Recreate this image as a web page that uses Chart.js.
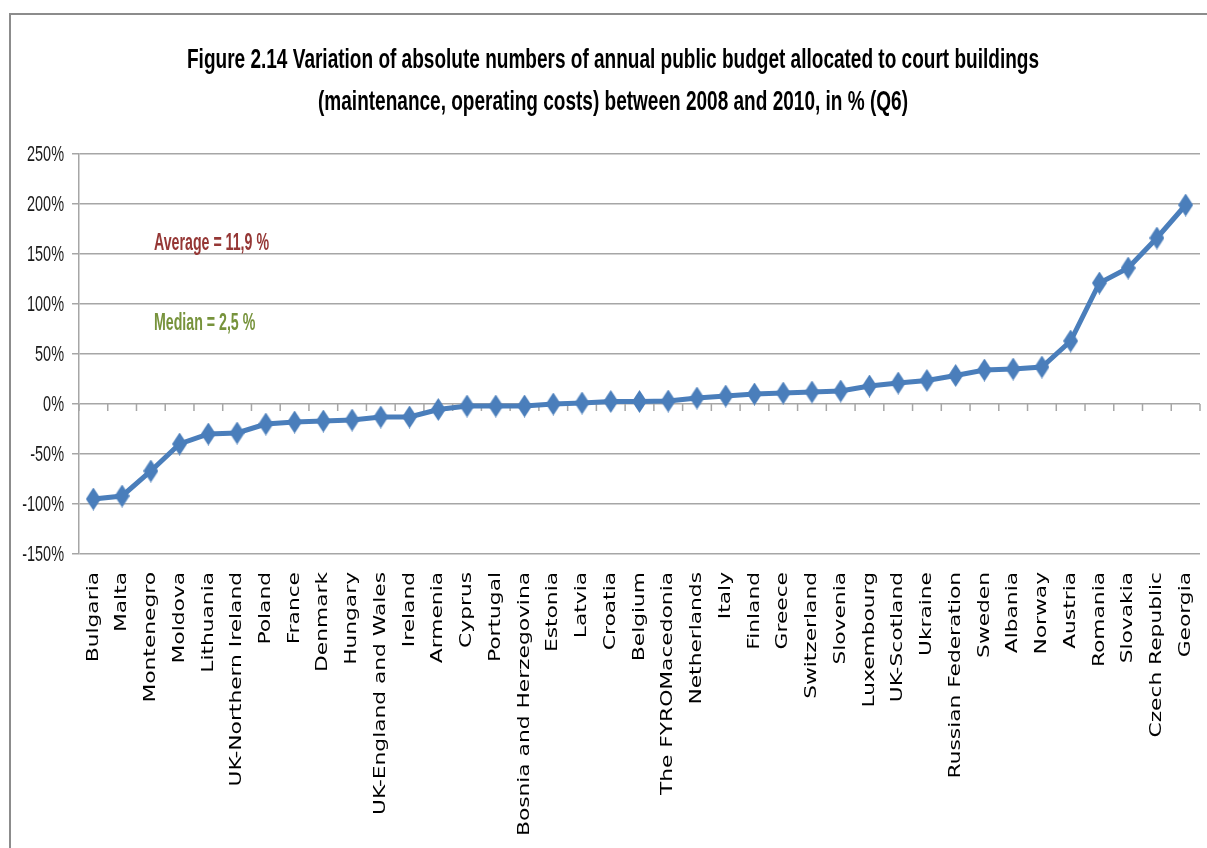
<!DOCTYPE html>
<html>
<head>
<meta charset="utf-8">
<script src="https://cdn.jsdelivr.net/npm/chart.js@4/dist/chart.umd.min.js"></script>
<style>
  html, body { margin: 0; padding: 0; background: #fff; }
  #chart { display: block; }
</style>
</head>
<body>
<canvas id="chart" width="1207" height="848"></canvas>
<script>
// Data
const countries = [
  'Bulgaria', 'Malta', 'Montenegro', 'Moldova', 'Lithuania', 'UK-Northern Ireland',
  'Poland', 'France', 'Denmark', 'Hungary', 'UK-England and Wales', 'Ireland',
  'Armenia', 'Cyprus', 'Portugal', 'Bosnia and Herzegovina', 'Estonia', 'Latvia',
  'Croatia', 'Belgium', 'The FYROMacedonia', 'Netherlands', 'Italy', 'Finland',
  'Greece', 'Switzerland', 'Slovenia', 'Luxembourg', 'UK-Scotland', 'Ukraine',
  'Russian Federation', 'Sweden', 'Albania', 'Norway', 'Austria', 'Romania',
  'Slovakia', 'Czech Republic', 'Georgia'
];
const variation = [
  -95, -92, -67, -40, -30, -29,
  -20, -18, -17, -16, -13, -13,
  -5.5, -2, -2, -2, 0, 1,
  2.5, 2.5, 3, 6, 8, 10,
  11, 12, 13, 18, 21, 23.5,
  28.5, 34, 35, 37, 63, 121,
  136, 166, 199
];
const yTickValues = [-150, -100, -50, 0, 50, 100, 150, 200, 250];
const titleLines = [
  'Figure 2.14 Variation of absolute numbers of annual public budget allocated to court buildings',
  '(maintenance, operating costs) between 2008 and 2010, in % (Q6)'
];
const notes = [
  { text: 'Average = 11,9 %', color: '#953735' },
  { text: 'Median = 2,5 %', color: '#77933c' }
];

const blue = '#4a7ebb';

// tall diamond marker
function makeDiamond(w, h) {
  const c = document.createElement('canvas');
  c.width = w; c.height = h;
  const g = c.getContext('2d');
  g.fillStyle = blue;
  g.beginPath();
  g.moveTo(w / 2, 0);
  g.lineTo(w, h / 2);
  g.lineTo(w / 2, h);
  g.lineTo(0, h / 2);
  g.closePath();
  g.fill();
  return c;
}
const diamond = makeDiamond(15, 23);

// draw text squeezed/stretched horizontally by sx
function drawScaled(ctx, text, x, y, sx, align) {
  ctx.save();
  ctx.translate(x, y);
  ctx.scale(sx, 1);
  ctx.textAlign = align;
  ctx.fillText(text, 0, 0);
  ctx.restore();
}

const decorations = {
  id: 'decorations',
  beforeDraw(chart) {
    const ctx = chart.ctx;
    ctx.save();
    ctx.fillStyle = '#fff';
    ctx.fillRect(0, 0, chart.width, chart.height);
    // outer frame
    ctx.strokeStyle = '#8c8c8c';
    ctx.lineWidth = 2;
    ctx.beginPath();
    ctx.moveTo(10, chart.height);
    ctx.lineTo(10, 14);
    ctx.lineTo(chart.width, 14);
    ctx.stroke();
    ctx.restore();
  },
  beforeDatasetsDraw(chart) {
    // tick marks on the 0% line between categories
    const ctx = chart.ctx;
    const x = chart.scales.x, y = chart.scales.y;
    const y0 = y.getPixelForValue(0);
    const step = x.getPixelForValue(1) - x.getPixelForValue(0);
    ctx.save();
    ctx.strokeStyle = '#a6a6a6';
    ctx.lineWidth = 1.5;
    ctx.beginPath();
    for (let i = 0; i <= countries.length; i++) {
      const px = x.getPixelForValue(0) - step / 2 + i * step;
      ctx.moveTo(px, y0);
      ctx.lineTo(px, y0 + 7);
    }
    ctx.stroke();
    ctx.restore();
  },
  afterDraw(chart) {
    const ctx = chart.ctx;
    const x = chart.scales.x, y = chart.scales.y;
    ctx.save();

    // title
    ctx.fillStyle = '#000';
    ctx.font = 'bold 27px "Liberation Sans", Arial, sans-serif';
    ctx.textBaseline = 'alphabetic';
    const tsx = 852 / ctx.measureText(titleLines[0]).width;
    drawScaled(ctx, titleLines[0], 613, 68, tsx, 'center');
    drawScaled(ctx, titleLines[1], 613, 110, tsx, 'center');

    // annotations
    ctx.font = 'bold 23px "Liberation Sans", Arial, sans-serif';
    const nsx = 115 / ctx.measureText(notes[0].text).width;
    ctx.fillStyle = notes[0].color;
    drawScaled(ctx, notes[0].text, 154, 250, nsx, 'left');
    ctx.fillStyle = notes[1].color;
    drawScaled(ctx, notes[1].text, 154, 330, nsx, 'left');

    // y tick labels
    ctx.fillStyle = '#1a1a1a';
    ctx.font = '22px "Liberation Sans", Arial, sans-serif';
    ctx.textBaseline = 'middle';
    const ysx = 37 / ctx.measureText('250%').width;
    yTickValues.forEach(v => {
      drawScaled(ctx, v + '%', 64, y.getPixelForValue(v) + 1, ysx, 'right');
    });

    // x labels, rotated, read bottom to top
    ctx.fillStyle = '#000';
    ctx.font = '16px "DejaVu Sans", Verdana, sans-serif';
    ctx.textBaseline = 'middle';
    const xsx = 264 / ctx.measureText('Bosnia and Herzegovina').width;
    countries.forEach((name, i) => {
      ctx.save();
      ctx.translate(x.getPixelForValue(i), 572);
      ctx.rotate(-Math.PI / 2);
      ctx.scale(xsx, 1);
      ctx.textAlign = 'right';
      ctx.fillText(name, 0, 0);
      ctx.restore();
    });

    ctx.restore();
  }
};

new Chart(document.getElementById('chart'), {
  type: 'line',
  data: {
    labels: countries,
    datasets: [{
      data: variation,
      borderColor: blue,
      borderWidth: 5,
      backgroundColor: blue,
      pointStyle: diamond,
      pointRadius: 8,
      tension: 0
    }]
  },
  options: {
    responsive: false,
    devicePixelRatio: 1,
    animation: false,
    layout: { autoPadding: false, padding: { left: 72, right: 7, top: 154, bottom: 294 } },
    plugins: { legend: { display: false }, tooltip: { enabled: false }, title: { display: false } },
    scales: {
      x: {
        offset: true,
        grid: { display: false, drawTicks: false },
        border: { display: false },
        ticks: { display: false }
      },
      y: {
        min: -150,
        max: 250,
        ticks: { display: false, stepSize: 50 },
        grid: { color: '#a6a6a6', lineWidth: 1.5, tickLength: 7, drawTicks: true },
        border: { display: true, color: '#a6a6a6', width: 1.5 }
      }
    }
  },
  plugins: [decorations]
});
</script>
</body>
</html>
